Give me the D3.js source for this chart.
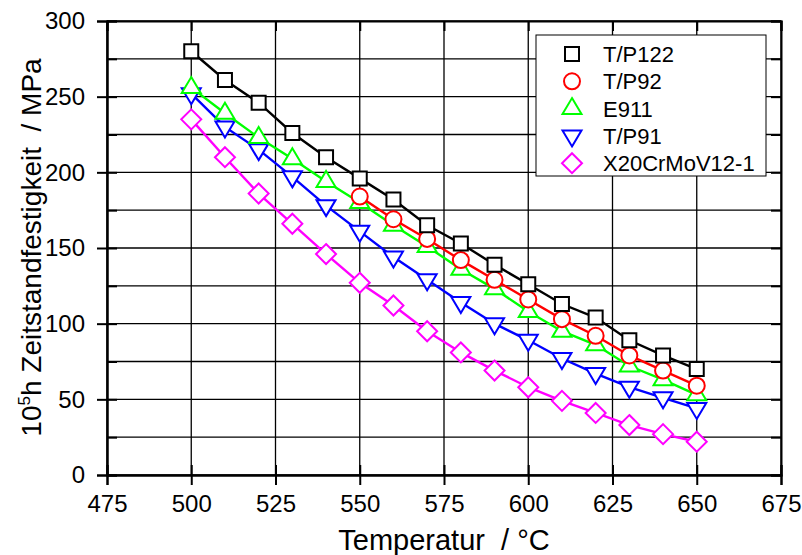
<!DOCTYPE html>
<html>
<head>
<meta charset="utf-8">
<script src="https://cdn.jsdelivr.net/npm/d3@7"></script>
<style>
  body { margin: 0; background: #fff; }
  svg { display: block; font-family: "Liberation Sans", Arial, sans-serif; }
  .axis path, .axis line { stroke: #000; }
  .axis text { fill: #000; }
</style>
</head>
<body>
<div id="chart"></div>
<script>
// Creep rupture strength (10^5 h) vs temperature for several steels

const temps = [500, 510, 520, 530, 540, 550, 560, 570, 580, 590, 600, 610, 620, 630, 640, 650];

const tp122 = [280, 261, 246, 226, 210, 196, 182, 165, 153, 139, 126, 113, 104, 89, 79, 70];
const tp92  = [null, null, null, null, null, 184, 169, 156, 142, 129, 116, 103, 92, 79, 69, 59];
const e911  = [256, 239, 223, 209, 194, 180, 165, 151, 136, 123, 108, 95, 86, 72, 63, 53];
const tp91  = [252, 230, 215, 197, 178, 161, 144, 129, 114, 100, 89, 77, 67, 58, 51, 44];
const x20   = [235, 210, 186, 166, 146, 127, 112, 95, 81, 69, 58, 49, 41, 33, 27, 22];

const seriesNames = ['T/P122', 'T/P92', 'E911', 'T/P91', 'X20CrMoV12-1'];
const seriesColors = ['#000000', '#ff0000', '#00ff00', '#0000ff', '#ff00ff'];
const seriesShapes = ['square', 'circle', 'triangleUp', 'triangleDown', 'diamond'];

const xTicks = [475, 500, 525, 550, 575, 600, 625, 650, 675];
const yTicks = [0, 50, 100, 150, 200, 250, 300];
const yGrid = [0, 25, 50, 75, 100, 125, 150, 175, 200, 225, 250, 275, 300];

const W = 802, H = 555;
const margin = { top: 21, right: 21, bottom: 80, left: 107 };
const width = W - margin.left - margin.right;
const height = H - margin.top - margin.bottom;

const svg = d3.select('#chart').append('svg')
    .attr('width', W)
    .attr('height', H);

const g = svg.append('g')
    .attr('transform', `translate(${margin.left},${margin.top})`);

const xScale = d3.scaleLinear().domain([475, 675]).range([0, width]);
const yScale = d3.scaleLinear().domain([0, 300]).range([height, 0]);

// grid
g.append('g').selectAll('line')
    .data(xTicks)
    .join('line')
    .attr('x1', d => xScale(d)).attr('x2', d => xScale(d))
    .attr('y1', 0).attr('y2', height)
    .attr('stroke', '#000').attr('stroke-width', 1.3);

g.append('g').selectAll('line')
    .data(yGrid)
    .join('line')
    .attr('x1', 0).attr('x2', width)
    .attr('y1', d => yScale(d)).attr('y2', d => yScale(d))
    .attr('stroke', '#000').attr('stroke-width', 1.3);

// axes
const tickFont = '24px';

const xAxis = g.append('g')
    .attr('class', 'axis')
    .attr('transform', `translate(0,${height})`)
    .call(d3.axisBottom(xScale).tickValues(xTicks).tickSize(10).tickPadding(10).tickFormat(d3.format('d')));
xAxis.selectAll('text').style('font-size', tickFont);

g.append('g')
    .attr('class', 'axis')
    .attr('transform', `translate(0,${height})`)
    .call(d3.axisBottom(xScale).tickValues(xTicks).tickSize(-10).tickFormat(''));

const yAxis = g.append('g')
    .attr('class', 'axis')
    .call(d3.axisLeft(yScale).tickValues(yTicks).tickSize(10).tickPadding(12).tickFormat(d3.format('d')));
yAxis.selectAll('text').style('font-size', tickFont);

g.append('g')
    .attr('class', 'axis')
    .call(d3.axisLeft(yScale).tickValues(yGrid).tickSize(-10).tickFormat(''));

g.append('g')
    .attr('class', 'axis')
    .call(d3.axisTop(xScale).tickValues(xTicks).tickSize(-10).tickFormat(''));

g.append('g')
    .attr('class', 'axis')
    .attr('transform', `translate(${width},0)`)
    .call(d3.axisRight(yScale).tickValues(yGrid).tickSize(-10).tickFormat(''));

g.selectAll('.axis path.domain').attr('stroke-width', 2);
g.selectAll('.axis line').attr('stroke-width', 2);

// axis titles
g.append('text')
    .attr('x', width / 2)
    .attr('y', height + 75)
    .attr('text-anchor', 'middle')
    .style('font-size', '29px')
    .style('white-space', 'pre')
    .text('Temperatur  / °C');

const yTitle = g.append('text')
    .attr('transform', 'rotate(-90)')
    .attr('x', -226.5)
    .attr('y', -66)
    .attr('text-anchor', 'middle')
    .style('font-size', '28px')
    .style('white-space', 'pre');
yTitle.append('tspan').text('10');
yTitle.append('tspan').attr('dy', '-11').style('font-size', '17px').text('5');
yTitle.append('tspan').attr('dy', '11').text('h Zeitstandfestigkeit  / MPa');

// symbols
function symbolPath(shape) {
    switch (shape) {
        case 'square': return 'M-7,-7H7V7H-7Z';
        case 'triangleUp': return 'M0,-10.5L9.5,5.5L-9.5,5.5Z';
        case 'triangleDown': return 'M0,10.5L9.5,-5.5L-9.5,-5.5Z';
        case 'diamond': return 'M0,-10L10,0L0,10L-10,0Z';
        default: return null;
    }
}

function drawMarker(sel, shape, color) {
    if (shape === 'circle') {
        sel.append('circle')
            .attr('r', 8)
            .attr('fill', '#fff')
            .attr('stroke', color)
            .attr('stroke-width', 2);
    } else {
        sel.append('path')
            .attr('d', symbolPath(shape))
            .attr('fill', '#fff')
            .attr('stroke', color)
            .attr('stroke-width', 2)
            .attr('stroke-linejoin', 'miter');
    }
}

const allValues = [tp122, tp92, e911, tp91, x20];
const line = d3.line()
    .defined(d => d.v != null)
    .x(d => xScale(d.t))
    .y(d => yScale(d.v));

// draw order: magenta, blue, green, red, black
[4, 3, 2, 1, 0].forEach(i => {
    const pts = temps.map((t, j) => ({ t: t, v: allValues[i][j] }));
    const sg = g.append('g');
    sg.append('path')
        .datum(pts)
        .attr('fill', 'none')
        .attr('stroke', seriesColors[i])
        .attr('stroke-width', 2.4)
        .attr('d', line);
    pts.filter(d => d.v != null).forEach(d => {
        const m = sg.append('g')
            .attr('transform', `translate(${xScale(d.t)},${yScale(d.v)})`);
        drawMarker(m, seriesShapes[i], seriesColors[i]);
    });
});

// legend
const legend = svg.append('g')
    .attr('transform', 'translate(536,35)');

legend.append('rect')
    .attr('width', 230)
    .attr('height', 141)
    .attr('fill', '#fff')
    .attr('stroke', '#000')
    .attr('stroke-width', 1);

seriesNames.forEach((name, i) => {
    const item = legend.append('g')
        .attr('transform', `translate(36, ${19 + i * 27.3})`);
    drawMarker(item, seriesShapes[i], seriesColors[i]);
    item.append('text')
        .attr('x', 31)
        .attr('y', 8)
        .style('font-size', '22px')
        .text(name);
});
</script>
</body>
</html>
